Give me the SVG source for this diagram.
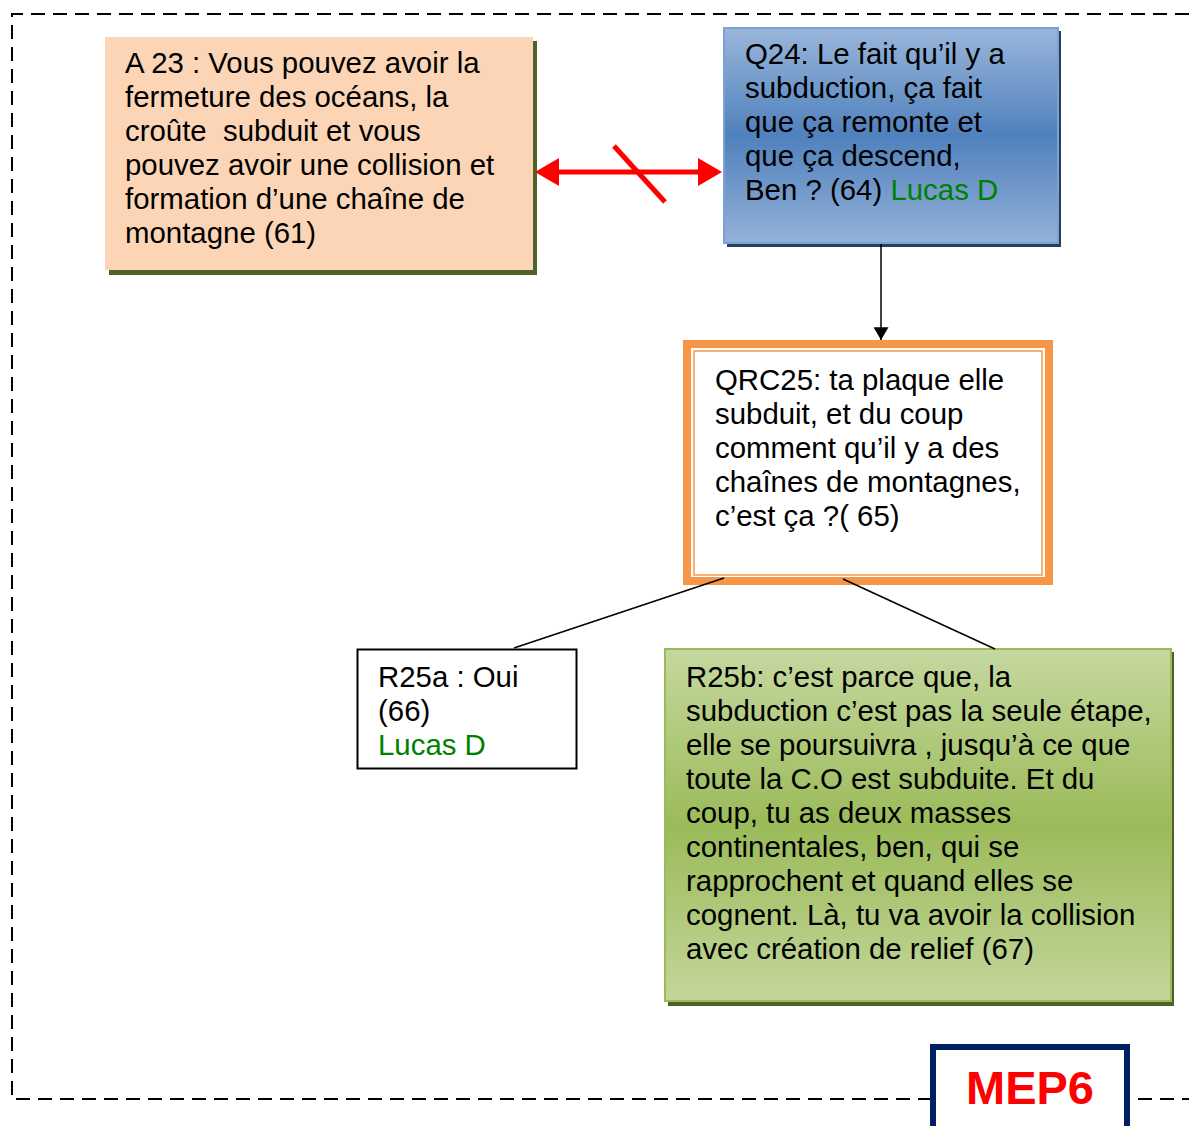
<svg xmlns="http://www.w3.org/2000/svg" width="1189" height="1126" viewBox="0 0 1189 1126">
<style>
.t{font-family:"Liberation Sans",Arial,sans-serif;font-size:29.4px;fill:#000}
.g{fill:#008000}
.conn{stroke:#000;stroke-width:1.5;fill:none}
</style>
<defs>
<linearGradient id="blue" x1="0" y1="0" x2="0" y2="1">
<stop offset="0" stop-color="#9AB6DA"/><stop offset="0.5" stop-color="#4F81BD"/><stop offset="1" stop-color="#94B1D7"/>
</linearGradient>
<linearGradient id="green" x1="0" y1="0" x2="0" y2="1">
<stop offset="0" stop-color="#C5D89F"/><stop offset="0.5" stop-color="#9BBB59"/><stop offset="1" stop-color="#C3D69B"/>
</linearGradient>
<marker id="blk" viewBox="0 0 12 14" refX="12" refY="7" markerWidth="13" markerHeight="15" markerUnits="userSpaceOnUse" orient="auto">
<path d="M0,0 L12,7 L0,14 Z" fill="#000"/>
</marker>
</defs>
<rect width="1189" height="1126" fill="#fff"/>
<path d="M1189,14 L12,14 L12,1099 L1189,1099" fill="none" stroke="#000" stroke-width="2" stroke-dasharray="14,8"/>

<g id="A23">
<rect x="109" y="41" width="428" height="234" fill="#4F6228"/>
<rect x="105" y="37" width="428" height="233" fill="#FBD5B5"/>
<text class="t"><tspan x="125" y="73">A 23 : Vous pouvez avoir la</tspan><tspan x="125" y="107">fermeture des océans, la</tspan><tspan x="125" y="141" xml:space="preserve">croûte  subduit et vous</tspan><tspan x="125" y="175">pouvez avoir une collision et</tspan><tspan x="125" y="209">formation d’une chaîne de</tspan><tspan x="125" y="243">montagne (61)</tspan></text>
</g>

<g id="Q24">
<rect x="727" y="31" width="334" height="216" fill="#243F60"/>
<rect x="724" y="28" width="334" height="215" fill="url(#blue)" stroke="#7EA2CF" stroke-width="2"/>
<text class="t"><tspan x="745" y="64">Q24: Le fait qu’il y a</tspan><tspan x="745" y="98">subduction, ça fait</tspan><tspan x="745" y="132">que ça remonte et</tspan><tspan x="745" y="166">que ça descend,</tspan><tspan x="745" y="200">Ben ? (64) <tspan class="g">Lucas D</tspan></tspan></text>
</g>

<g id="QRC25">
<rect x="687" y="344" width="362" height="237" fill="#fff" stroke="#F79646" stroke-width="8"/>
<rect x="694" y="351" width="348" height="224" fill="none" stroke="#F79646" stroke-width="1.5"/>
<text class="t"><tspan x="715" y="390">QRC25: ta plaque elle</tspan><tspan x="715" y="424">subduit, et du coup</tspan><tspan x="715" y="458">comment qu’il y a des</tspan><tspan x="715" y="492">chaînes de montagnes,</tspan><tspan x="715" y="526">c’est ça ?( 65)</tspan></text>
</g>

<g id="R25a">
<rect x="357.5" y="649.5" width="219" height="119" fill="#fff" stroke="#000" stroke-width="2"/>
<text class="t"><tspan x="378" y="687">R25a : Oui</tspan><tspan x="378" y="721">(66)</tspan><tspan x="378" y="755" class="g">Lucas D</tspan></text>
</g>

<g id="R25b">
<rect x="668" y="652" width="506" height="354" fill="#4F6228"/>
<rect x="665" y="649" width="506" height="352" fill="url(#green)" stroke="#9BBB59" stroke-width="2"/>
<text class="t"><tspan x="686" y="687">R25b: c’est parce que, la</tspan><tspan x="686" y="721">subduction c’est pas la seule étape,</tspan><tspan x="686" y="755">elle se poursuivra , jusqu’à ce que</tspan><tspan x="686" y="789">toute la C.O est subduite. Et du</tspan><tspan x="686" y="823">coup, tu as deux masses</tspan><tspan x="686" y="857">continentales, ben, qui se</tspan><tspan x="686" y="891">rapprochent et quand elles se</tspan><tspan x="686" y="925">cognent. Là, tu va avoir la collision</tspan><tspan x="686" y="959">avec création de relief (67)</tspan></text>
</g>

<g id="connectors">
<line x1="559" y1="172" x2="698" y2="172" stroke="#FF0000" stroke-width="5"/>
<path d="M535,172 L559,158 L559,186 Z" fill="#FF0000"/>
<path d="M722,172 L698,158 L698,186 Z" fill="#FF0000"/>
<line x1="614" y1="146" x2="665" y2="202" stroke="#FF0000" stroke-width="5"/>
<line class="conn" x1="881" y1="244" x2="881" y2="340" marker-end="url(#blk)"/>
<line class="conn" x1="724" y1="578" x2="514" y2="648"/>
<line class="conn" x1="843" y1="579" x2="995" y2="649"/>
</g>

<g id="MEP6">
<rect x="933" y="1047" width="194" height="90" fill="#fff" stroke="#002060" stroke-width="6"/>
<text x="1030" y="1104" text-anchor="middle" style="font-family:'Liberation Sans',Arial,sans-serif;font-size:47px;font-weight:bold;fill:#FF0000">MEP6</text>
</g>
</svg>
